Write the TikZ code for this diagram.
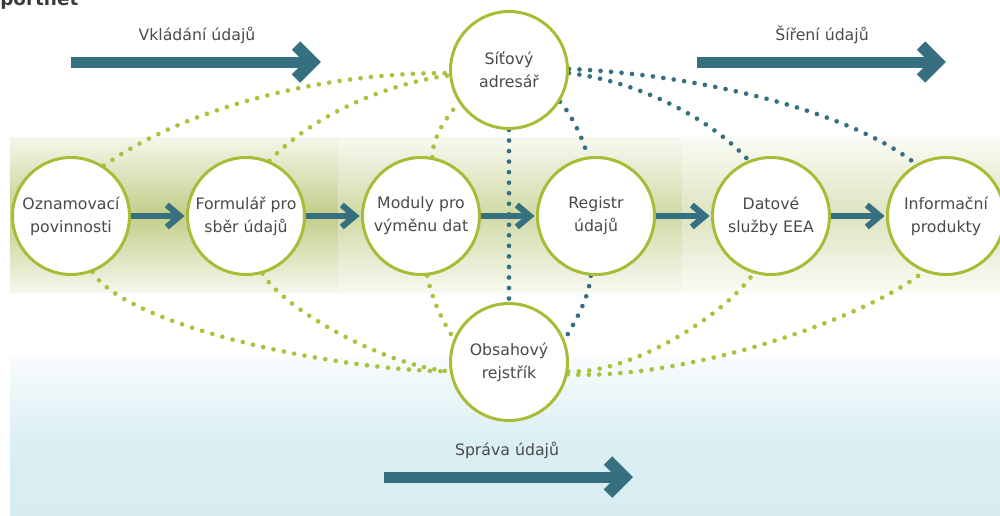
\documentclass[tikz,border=0pt]{standalone}
\usepackage{fontspec}
\setmainfont{DejaVu Sans}
\usetikzlibrary{calc}
\definecolor{teal1}{HTML}{356F80}
\definecolor{cgreen}{HTML}{A7BC37}
\definecolor{dgreen}{HTML}{A9C33E}
\definecolor{txt}{HTML}{4A4A4A}
\definecolor{ttl}{HTML}{3A3A3A}
\definecolor{bandA}{HTML}{C3CD88}
\definecolor{bandB}{HTML}{D1D9A6}
\definecolor{bandC}{HTML}{DEE4C0}
\definecolor{edgeA}{HTML}{F5F7EC}
\definecolor{edgeB}{HTML}{F8F9F1}
\definecolor{edgeC}{HTML}{FAFBF5}
\definecolor{blueA}{HTML}{DBEFF3}
\definecolor{blueB}{HTML}{D7EDF1}
\definecolor{blueTop}{HTML}{F9FCFD}
\pgfdeclarelayer{back}
\pgfdeclarelayer{lines}
\pgfsetlayers{back,lines,main}
\begin{document}
\begin{tikzpicture}[x=0.75pt,y=-0.75pt,
  proc/.style={circle, draw=cgreen, line width=2.25pt, fill=white,
    minimum size=87.75pt, inner sep=0pt, text=txt, align=center,
    font=\fontsize{11.8}{17.3}\selectfont},
  gdots/.style={draw=dgreen, line width=3.5pt, line cap=round, dash pattern=on 0pt off 7.9pt},
  tdots/.style={gdots, draw=teal1},
  shaft/.style={draw=teal1, line width=4pt},
  bigshaft/.style={draw=teal1, line width=8.25pt},
  lbl/.style={text=txt, font=\fontsize{11.8}{14}\selectfont, inner sep=0pt},
  smallhead/.pic={\draw[teal1, line width=4.6pt, line join=miter, line cap=butt] (-17.7,-11) -- (-4.7,0) -- (-17.7,11);},
  bighead/.pic={\draw[teal1, line width=9pt, line join=miter, line cap=butt] (-25,-16.5) -- (-8.5,0) -- (-25,16.5);}
]
\useasboundingbox (0,0) rectangle (1000,515);

% backgrounds
\begin{pgfonlayer}{back}
\shade[top color=edgeA, bottom color=edgeA, middle color=bandA] (10,137) rectangle (338,292);
\shade[top color=edgeB, bottom color=edgeB, middle color=bandB] (338,137) rectangle (682,292);
\shade[top color=edgeC, bottom color=edgeC, middle color=bandC] (682,137) rectangle (1000,292);
\shade[top color=blueTop, bottom color=blueA] (10,357) rectangle (1000,440);
\shade[top color=blueA, bottom color=blueB] (10,440) rectangle (1000,515);
\end{pgfonlayer}

% title (cut off at the top, as in the reference)
\node[anchor=base west, inner sep=0pt, text=ttl, font=\bfseries\fontsize{13.8}{16}\selectfont] (title) at (0,5) {portnet};

% process circles
\node[proc] (n1) at (71,216) {Oznamovací\\povinnosti};
\node[proc] (n2) at (246,216) {Formulář pro\\sběr údajů};
\node[proc] (n3) at (421,216) {Moduly pro\\výměnu dat};
\node[proc] (n4) at (596,216) {Registr\\údajů};
\node[proc] (n5) at (771,216) {Datové\\služby EEA};
\node[proc] (n6) at (946,216) {Informační\\produkty};
\node[proc] (sit) at (509,70) {Síťový\\adresář};
\node[proc] (obs) at (509,362) {Obsahový\\rejstřík};

% dotted links
\begin{pgfonlayer}{lines}
\draw[gdots] (n1.57) .. controls (190,105) and (330,72) .. (sit.183);
\draw[gdots] (n2.67) .. controls (310,118) and (380,85) .. (sit.185);
\draw[gdots] (n3.79) .. controls (432,137) and (447,117) .. (sit.213);
\draw[gdots] (n1.-69) .. controls (125,325) and (330,370) .. (obs.189);
\draw[gdots] (n2.-74) .. controls (285,310) and (385,366) .. (obs.189);
\draw[gdots] (n3.-84) .. controls (431,298) and (444,324) .. (obs.157);
\draw[gdots] (obs.-9) .. controls (630,375) and (725,315) .. (n5.-107);
\draw[gdots] (obs.-12) .. controls (690,380) and (870,316) .. (n6.-112);
\draw[tdots] (sit.-90) -- (obs.90);
\draw[tdots] (sit.-32) .. controls (570,112) and (584,140) .. (n4.98);
\draw[tdots] (n4.-95) .. controls (589,298) and (575,322) .. (obs.22);
\draw[tdots] (sit.-3) .. controls (630,80) and (705,113) .. (n5.112);
\draw[tdots] (sit.1) .. controls (690,74) and (845,108) .. (n6.120);
\end{pgfonlayer}

% flow arrows between circles
\foreach \a/\b in {n1/n2,n2/n3,n3/n4,n4/n5,n5/n6}{
  \draw[shaft] (\a.east) -- ([shift={(-6,0)}]\b.west);
  \path ([shift={(-1.5,0)}]\b.west) pic {smallhead};
}

% big arrows with labels
\coordinate (v1s) at (71,62);  \coordinate (v1e) at (321,62);
\coordinate (s1s) at (697,62); \coordinate (s1e) at (946,62);
\coordinate (p1s) at (384,477); \coordinate (p1e) at (633,477);
\draw[bigshaft] (v1s) -- ([shift={(-8,0)}]v1e);
\path (v1e) pic {bighead};
\draw[bigshaft] (s1s) -- ([shift={(-8,0)}]s1e);
\path (s1e) pic {bighead};
\draw[bigshaft] (p1s) -- ([shift={(-8,0)}]p1e);
\path (p1e) pic {bighead};
\node[lbl] (lv) at (197,35) {Vkládání údajů};
\node[lbl] (ls) at (822,35) {Šíření údajů};
\node[lbl] (lp) at (507,450) {Správa údajů};
\end{tikzpicture}
\end{document}
